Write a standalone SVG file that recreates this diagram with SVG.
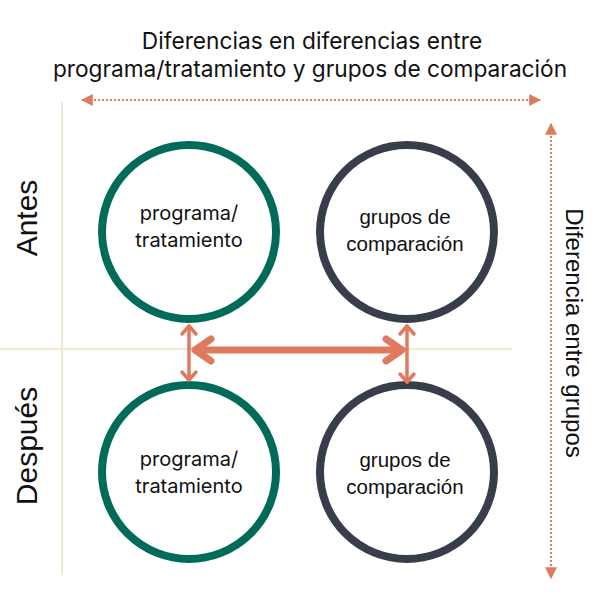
<svg xmlns="http://www.w3.org/2000/svg" width="600" height="600" viewBox="0 0 600 600">
<defs>
<style>
.axis{stroke:#f1e8d6;stroke-width:2;fill:none}
.dot{stroke:#e07a5f;stroke-width:2;stroke-dasharray:2 2;fill:none}
.arr{stroke:#e07a5f;fill:none;stroke-linecap:round;stroke-linejoin:round}
.green{fill:#fff;stroke:#006b58;stroke-width:8}
.dark{fill:#fff;stroke:#383e49;stroke-width:8}
.t1{font-family:Inter,"Noto Sans",sans-serif;font-size:20px;fill:#111;text-anchor:middle}
.t2{font-family:"Liberation Sans",Arial,sans-serif;font-size:20.5px;fill:#111;text-anchor:middle}
.title{font-family:Inter,"Noto Sans",sans-serif;font-size:22.7px;fill:#111;text-anchor:middle}
.side{font-family:"Liberation Sans",Arial,sans-serif;fill:#111;text-anchor:middle}
</style>
<marker id="tri" viewBox="0 0 10 10" refX="9" refY="5" markerWidth="6" markerHeight="6" orient="auto-start-reverse" markerUnits="strokeWidth">
<path d="M0,0 L10,5 L0,10 Z" fill="#e07a5f"/>
</marker>
</defs>
<rect width="600" height="600" fill="#fff"/>
<g id="title">
<text class="title" x="312" y="49">Diferencias en diferencias entre</text>
<text class="title" x="310" y="77">programa/tratamiento y grupos de comparación</text>
</g>
<g id="axes">
<line class="axis" x1="62" y1="102" x2="62" y2="575"/>
<line class="axis" x1="0" y1="349" x2="512" y2="349"/>
<text class="side" font-size="30" transform="translate(37,218) rotate(-90)">Antes</text>
<text class="side" font-size="30" transform="translate(37,446) rotate(-90)">Después</text>
<text class="side" font-size="24" transform="translate(566,333) rotate(90)">Diferencia entre grupos</text>
</g>
<g id="connectors">
<line class="dot" x1="82" y1="100" x2="540" y2="100" marker-start="url(#tri)" marker-end="url(#tri)"/>
<line class="dot" x1="551" y1="124" x2="551" y2="578" marker-start="url(#tri)" marker-end="url(#tri)"/>
</g>
<g id="node-prog-antes">
<circle class="green" cx="189" cy="232" r="87"/>
<text class="t1" x="189" y="220">programa/</text>
<text class="t1" x="189" y="247">tratamiento</text>
</g>
<g id="node-comp-antes">
<circle class="dark" cx="407" cy="232" r="87"/>
<text class="t2" x="405" y="224">grupos de</text>
<text class="t2" x="405" y="251">comparación</text>
</g>
<g id="node-prog-despues">
<circle class="green" cx="189" cy="472" r="87"/>
<text class="t1" x="189" y="466">programa/</text>
<text class="t1" x="189" y="493">tratamiento</text>
</g>
<g id="node-comp-despues">
<circle class="dark" cx="407" cy="472" r="87"/>
<text class="t2" x="405" y="467">grupos de</text>
<text class="t2" x="405" y="494">comparación</text>
</g>
<g id="arrows">
<g class="arr" stroke-width="7">
<line x1="196" y1="350" x2="400" y2="350"/>
<polyline points="211,339 195,350 211,361"/>
<polyline points="386,339 402,350 386,361"/>
</g>
<g class="arr" stroke-width="3.5">
<line x1="189" y1="326" x2="189" y2="380"/>
<polyline points="182,334 189,326 196,334"/>
<polyline points="182,372 189,380 196,372"/>
<line x1="407" y1="326" x2="407" y2="382"/>
<polyline points="400,334 407,326 414,334"/>
<polyline points="400,374 407,382 414,374"/>
</g>
</g>
</svg>
